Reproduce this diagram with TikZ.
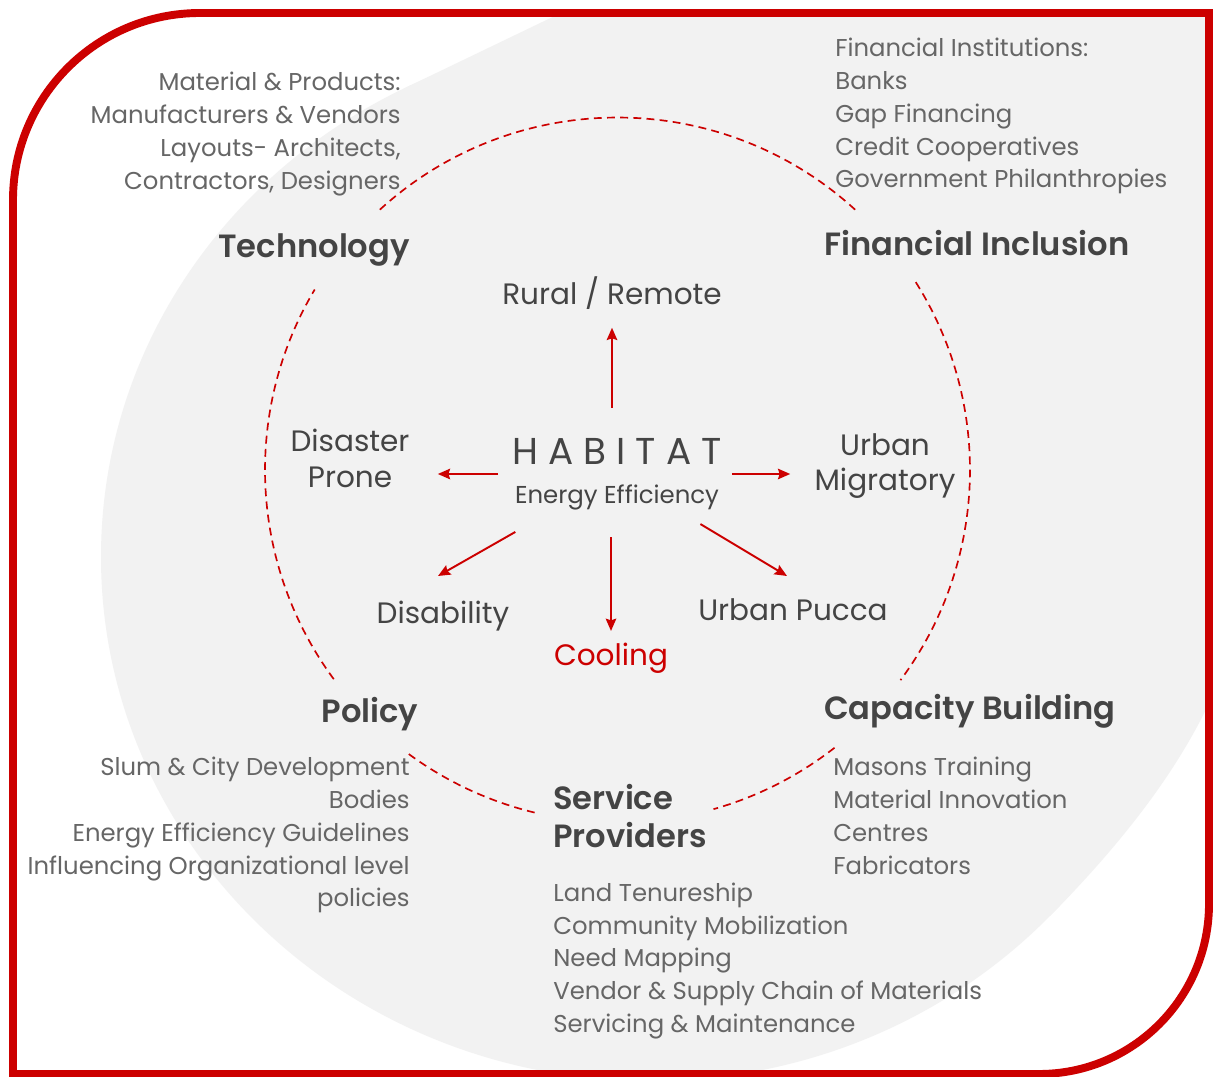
\documentclass[tikz,border=0pt]{standalone}
\usepackage{fontspec}
\setmainfont{Poppins}
\newfontfamily\headfont{Poppins SemiBold}
\usetikzlibrary{arrows.meta}

\definecolor{hubred}{HTML}{CC0000}
\definecolor{backgray}{HTML}{F2F2F2}
\definecolor{txtgray}{HTML}{666666}
\definecolor{txtdark}{HTML}{444444}

\begin{document}
\begin{tikzpicture}[x=0.02cm,y=-0.02cm,
  every node/.style={inner sep=0pt},
  listtext/.style={text=txtgray,font=\fontsize{13.85}{18.75}\selectfont},
  heading/.style={text=txtdark,font=\headfont\fontsize{18.3}{21.5}\selectfont},
  hubtext/.style={text=txtdark,font=\fontsize{16.8}{20.4}\selectfont,align=center},
  spoke/.style={draw=hubred,line width=1.1pt,-{Stealth[length=7pt,width=6pt,inset=1pt]}},
  ring/.style={draw=hubred,line width=0.95pt,dash pattern=on 4.5pt off 3pt}]

% frame and backdrop
\fill[white] (0,0) rectangle (1215,1077);
\useasboundingbox (0,0) rectangle (1215,1077);
\begin{scope}
  \clip (13,1074) -- (13,200) arc[start angle=180,end angle=270,radius=187]
    -- (1209,13) -- (1209,904) arc[start angle=0,end angle=90,radius=170] -- cycle;
  \fill[backgray] (650,557) ellipse[x radius=549,y radius=524];
  \fill[backgray] (1050,916) .. controls (1120,845) and (1180,770) .. (1215,690)
    -- (1215,0) -- (588,0) -- (403,89) -- (650,557) -- cycle;
\end{scope}
\draw[hubred,line width=4.5pt] (13,1074) -- (13,200) arc[start angle=180,end angle=270,radius=187]
    -- (1209,13) -- (1209,904) arc[start angle=0,end angle=90,radius=170] -- cycle;

% dashed ring, broken at the headings
\foreach \a/\b in {-132.4/-47.6, -32.2/36.6, 52/74.2, 103.6/126.6, 143.6/210.8}
  \draw[ring] (617.5,470) ++(\a:352.5) arc[start angle=\a,end angle=\b,radius=352.5];

% headings
\node[heading] (tech) at (314,250) {Technology};
\node[heading] (fin) at (977,243) {Financial Inclusion};
\node[heading] (cap) at (970,711) {Capacity Building};
\node[heading] (pol) at (370,714) {Policy};
\node[heading,align=left,anchor=west] (svc) at (553,816) {Service\\Providers};

% lists
\node[listtext,align=right,anchor=east] (techlist) at (401,134)
  {Material \& Products:\\Manufacturers \& Vendors\\Layouts- Architects,\\Contractors, Designers};
\node[listtext,align=left,anchor=west] (finlist) at (835,116)
  {Financial Institutions:\\Banks\\Gap Financing\\Credit Cooperatives\\Government Philanthropies};
\node[listtext,align=left,anchor=west] (caplist) at (833,816)
  {Masons Training\\Material Innovation\\Centres\\Fabricators};
\node[listtext,align=right,anchor=east] (pollist) at (410,835)
  {Slum \& City Development\\Bodies\\Energy Efficiency Guidelines\\Influencing Organizational level\\policies};
\node[listtext,align=left,anchor=west] (svclist) at (553,961)
  {Land Tenureship\\Community Mobilization\\Need Mapping\\Vendor \& Supply Chain of Materials\\Servicing \& Maintenance};

% hub
\node[hubtext,font=\fontsize{21.3}{22.2}\selectfont] (hab) at (617,474)
  {H A B I T A T\\{\fontsize{13.9}{22.2}\selectfont Energy Efficiency}};
\node[hubtext] (rural) at (612,293) {Rural / Remote};
\node[hubtext] (disas) at (350,458) {Disaster\\Prone};
\node[hubtext] (urbmig) at (885,466) {Urban\\Migratory};
\node[hubtext] (disab) at (443,616) {Disability};
\node[hubtext,text=hubred] (cool) at (611,658) {Cooling};
\node[hubtext] (pucca) at (793,610) {Urban Pucca};
\coordinate (dltip) at (438,576);
\coordinate (drtip) at (787,576);

\draw[spoke,shorten <=0.6cm,shorten >=0.36cm] (hab.north -| rural.south) -- (rural.south);
\draw[spoke,shorten <=0.28cm,shorten >=0.56cm] (hab.west) -- (hab.west -| disas.east);
\draw[spoke,shorten <=0.2cm,shorten >=0.48cm] (hab.east) -- (hab.east -| urbmig.west);
\draw[spoke,shorten <=0.54cm,shorten >=0.23cm] (hab.south -| cool.north) -- (cool.north);
\draw[spoke,shorten <=0.88cm] (hab) -- (dltip);
\draw[spoke,shorten <=0.54cm] (hab) -- (drtip);
\end{tikzpicture}
\end{document}
